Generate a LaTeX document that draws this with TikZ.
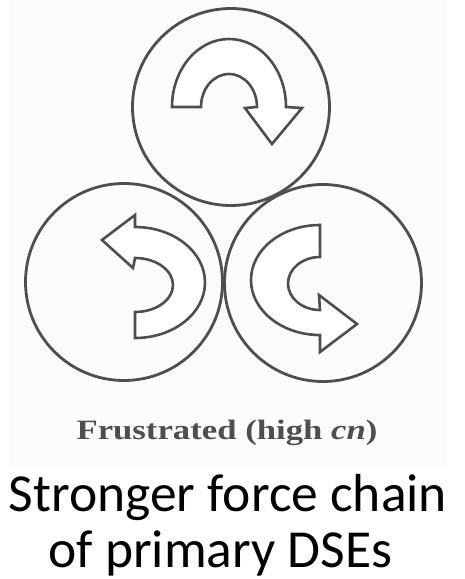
\documentclass[tikz,border=0pt]{standalone}
\usepackage{fontspec}
\setmainfont{Liberation Serif}
\newfontfamily\calib{Carlito}
\definecolor{ink}{HTML}{4E4E4E}
\definecolor{scanbg}{HTML}{FBFBFB}
\begin{document}
\begin{tikzpicture}[x=1pt,y=-1pt,
  ball/.style={draw=ink,line width=2.8pt},
  rotarrow/.style={draw=ink,line width=2.6pt,line join=miter,fill=white},
  scanlabel/.style={anchor=base,inner sep=0pt,text=ink,font=\bfseries\fontsize{28}{30}\selectfont},
  biglabel/.style={anchor=base,inner sep=0pt,text=black,font=\calib\fontsize{53.5}{60}\selectfont}]
\useasboundingbox (0,0) rectangle (464,579);
\fill[scanbg] (9,0) rectangle (447,466);
% circles
\node[ball,circle,minimum size=197pt,inner sep=0pt] (top) at (231,107) {};
\node[ball,circle,minimum size=197pt,inner sep=0pt] (left) at (124,282) {};
\node[ball,circle,minimum size=197pt,inner sep=0pt] (right) at (323,283) {};
% top arrow (clockwise)
\draw[rotarrow] (172,107) arc[start angle=180,end angle=360,x radius=57,y radius=68]
  -- (302,108) -- (272,144) -- (245,108) -- (257,107)
  arc[start angle=0,end angle=-180,x radius=28,y radius=33] -- cycle;
% left arrow (counter-clockwise)
\draw[rotarrow] (135,338) arc[start angle=90,end angle=-90,x radius=70,y radius=55.5]
  -- (135,215) -- (102,240) -- (133,268) -- (135,258)
  arc[start angle=-90,end angle=90,x radius=38,y radius=27] -- cycle;
% right arrow
\draw[rotarrow] (320,225) arc[start angle=270,end angle=90,x radius=69,y radius=55]
  -- (320,352) -- (357,324) -- (319,295) -- (320,310)
  arc[start angle=90,end angle=270,x radius=32,y radius=26.5] -- cycle;
% labels
\node[scanlabel] (cap) at (227,439) {\scalebox{1.24}[1]{Frustrated (high \textit{cn})}};
\node[biglabel] (l1) at (228,511) {Stronger force chain};
\node[biglabel] (l2) at (220.5,567) {of primary DSEs};
\end{tikzpicture}
\end{document}
